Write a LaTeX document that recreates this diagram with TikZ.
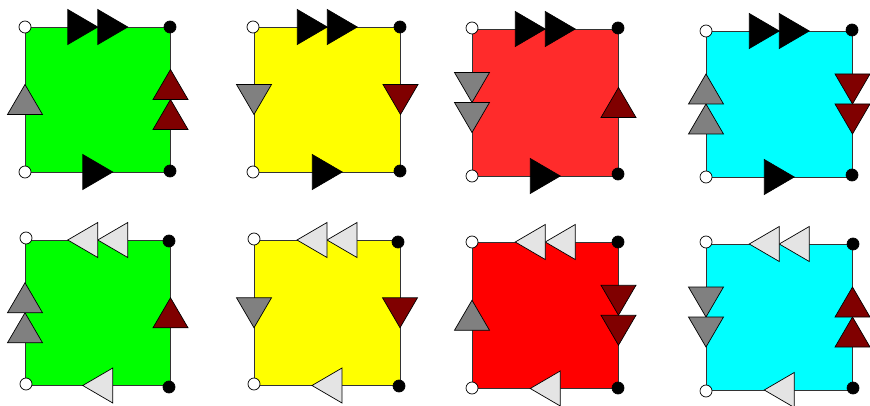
\documentclass[tikz,border=0pt]{standalone}
\usetikzlibrary{decorations.markings}
\definecolor{cgreen}{RGB}{0,255,0}
\definecolor{cyellow}{RGB}{255,255,0}
\definecolor{clred}{RGB}{255,43,43}
\definecolor{cred}{RGB}{255,0,0}
\definecolor{ccyan}{RGB}{0,255,255}
\definecolor{cgray}{RGB}{128,128,128}
\definecolor{cdred}{RGB}{128,0,0}
\definecolor{clgray}{RGB}{228,228,228}
\tikzset{
  edgeline/.style={draw=black!80, line width=0.9pt},
  tri/.style={fill=#1, draw=black, line width=0.7pt, line join=miter},
  arrowone/.style={postaction={decorate, decoration={markings,
      mark=at position 0.5 with {\path[tri=#1] (-15,-17.5) -- (15,0) -- (-15,17.5) -- cycle;}}}},
  arrowtwo/.style={postaction={decorate, decoration={markings,
      mark=at position 0.5 with {\path[tri=#1] (-30,-17.5) -- (0,0) -- (-30,17.5) -- cycle;
        \path[tri=#1] (0,-17.5) -- (30,0) -- (0,17.5) -- cycle;}}}},
  wdot/.style={circle, fill=white, draw=black, line width=0.7pt, minimum size=12pt, inner sep=0pt},
  bdot/.style={circle, fill=black, draw=black, line width=0.7pt, minimum size=12pt, inner sep=0pt},
}
\begin{document}
\begin{tikzpicture}[x=1pt,y=-1pt]
\useasboundingbox (0,0) rectangle (870,406);
% ---------- square 1 ----------
\coordinate (tl1) at (25,27); \coordinate (tr1) at (170.5,27);
\coordinate (br1) at (170.5,172); \coordinate (bl1) at (25,172);
\fill[cgreen] (tl1) rectangle (br1);
\draw[edgeline, arrowtwo=black] (tl1) -- (tr1);
\draw[edgeline, arrowone=black] (bl1) -- (br1);
\draw[edgeline, arrowone=cgray] (bl1) -- (tl1);
\draw[edgeline, arrowtwo=cdred] (br1) -- (tr1);
\node[wdot] (d-tl1) at (25,27) {}; \node[bdot] (d-tr1) at (170,27) {};
\node[bdot] (d-br1) at (170,171) {}; \node[wdot] (d-bl1) at (25,172) {};
% ---------- square 2 ----------
\coordinate (tl2) at (254,27); \coordinate (tr2) at (400.5,27);
\coordinate (br2) at (400.5,172); \coordinate (bl2) at (254,172);
\fill[cyellow] (tl2) rectangle (br2);
\draw[edgeline, arrowtwo=black] (tl2) -- (tr2);
\draw[edgeline, arrowone=black] (bl2) -- (br2);
\draw[edgeline, arrowone=cgray] (tl2) -- (bl2);
\draw[edgeline, arrowone=cdred] (tr2) -- (br2);
\node[wdot] (d-tl2) at (253,27) {}; \node[bdot] (d-tr2) at (400,27) {};
\node[bdot] (d-br2) at (400,171) {}; \node[wdot] (d-bl2) at (253,172) {};
% ---------- square 3 ----------
\coordinate (tl3) at (472,29); \coordinate (tr3) at (618.5,29);
\coordinate (br3) at (618.5,176); \coordinate (bl3) at (472,176);
\fill[clred] (tl3) rectangle (br3);
\draw[edgeline, arrowtwo=black] (tl3) -- (tr3);
\draw[edgeline, arrowone=black] (bl3) -- (br3);
\draw[edgeline, arrowtwo=cgray] (tl3) -- (bl3);
\draw[edgeline, arrowone=cdred] (br3) -- (tr3);
\node[wdot] (d-tl3) at (472,28) {}; \node[bdot] (d-tr3) at (618,28) {};
\node[bdot] (d-br3) at (618,174) {}; \node[wdot] (d-bl3) at (472,176) {};
% ---------- square 4 ----------
\coordinate (tl4) at (706,31); \coordinate (tr4) at (852.5,31);
\coordinate (br4) at (852.5,177); \coordinate (bl4) at (706,177);
\fill[ccyan] (tl4) rectangle (br4);
\draw[edgeline, arrowtwo=black] (tl4) -- (tr4);
\draw[edgeline, arrowone=black] (bl4) -- (br4);
\draw[edgeline, arrowtwo=cgray] (bl4) -- (tl4);
\draw[edgeline, arrowtwo=cdred] (tr4) -- (br4);
\node[wdot] (d-tl4) at (706,31) {}; \node[bdot] (d-tr4) at (852,30) {};
\node[bdot] (d-br4) at (852,175) {}; \node[wdot] (d-bl4) at (706,177) {};
% ---------- square 5 ----------
\coordinate (tl5) at (25,240); \coordinate (tr5) at (170.5,240);
\coordinate (br5) at (170.5,385.5); \coordinate (bl5) at (25,385.5);
\fill[cgreen] (tl5) rectangle (br5);
\draw[edgeline, arrowtwo=clgray] (tr5) -- (tl5);
\draw[edgeline, arrowone=clgray] (br5) -- (bl5);
\draw[edgeline, arrowtwo=cgray] (bl5) -- (tl5);
\draw[edgeline, arrowone=cdred] (br5) -- (tr5);
\node[wdot] (d-tl5) at (26,238) {}; \node[bdot] (d-tr5) at (169,241) {};
\node[bdot] (d-br5) at (169,387) {}; \node[wdot] (d-bl5) at (26,384) {};
% ---------- square 6 ----------
\coordinate (tl6) at (254,240); \coordinate (tr6) at (400,240);
\coordinate (br6) at (400,385.5); \coordinate (bl6) at (254,385.5);
\fill[cyellow] (tl6) rectangle (br6);
\draw[edgeline, arrowtwo=clgray] (tr6) -- (tl6);
\draw[edgeline, arrowone=clgray] (br6) -- (bl6);
\draw[edgeline, arrowone=cgray] (tl6) -- (bl6);
\draw[edgeline, arrowone=cdred] (tr6) -- (br6);
\node[wdot] (d-tl6) at (254,239) {}; \node[bdot] (d-tr6) at (398,242) {};
\node[bdot] (d-br6) at (399,386) {}; \node[wdot] (d-bl6) at (254,384) {};
% ---------- square 7 ----------
\coordinate (tl7) at (472,242); \coordinate (tr7) at (618.5,242);
\coordinate (br7) at (618.5,388.5); \coordinate (bl7) at (472,388.5);
\fill[cred] (tl7) rectangle (br7);
\draw[edgeline, arrowtwo=clgray] (tr7) -- (tl7);
\draw[edgeline, arrowone=clgray] (br7) -- (bl7);
\draw[edgeline, arrowone=cgray] (bl7) -- (tl7);
\draw[edgeline, arrowtwo=cdred] (tr7) -- (br7);
\node[wdot] (d-tl7) at (472,242) {}; \node[bdot] (d-tr7) at (618,242) {};
\node[bdot] (d-br7) at (618,388) {}; \node[wdot] (d-bl7) at (472,388) {};
% ---------- square 8 ----------
\coordinate (tl8) at (706,244); \coordinate (tr8) at (852.5,244);
\coordinate (br8) at (852.5,390); \coordinate (bl8) at (706,390);
\fill[ccyan] (tl8) rectangle (br8);
\draw[edgeline, arrowtwo=clgray] (tr8) -- (tl8);
\draw[edgeline, arrowone=clgray] (br8) -- (bl8);
\draw[edgeline, arrowtwo=cgray] (tl8) -- (bl8);
\draw[edgeline, arrowtwo=cdred] (br8) -- (tr8);
\node[wdot] (d-tl8) at (706,242) {}; \node[bdot] (d-tr8) at (853,244) {};
\node[bdot] (d-br8) at (853,388) {}; \node[wdot] (d-bl8) at (706,391) {};
\end{tikzpicture}
\end{document}
